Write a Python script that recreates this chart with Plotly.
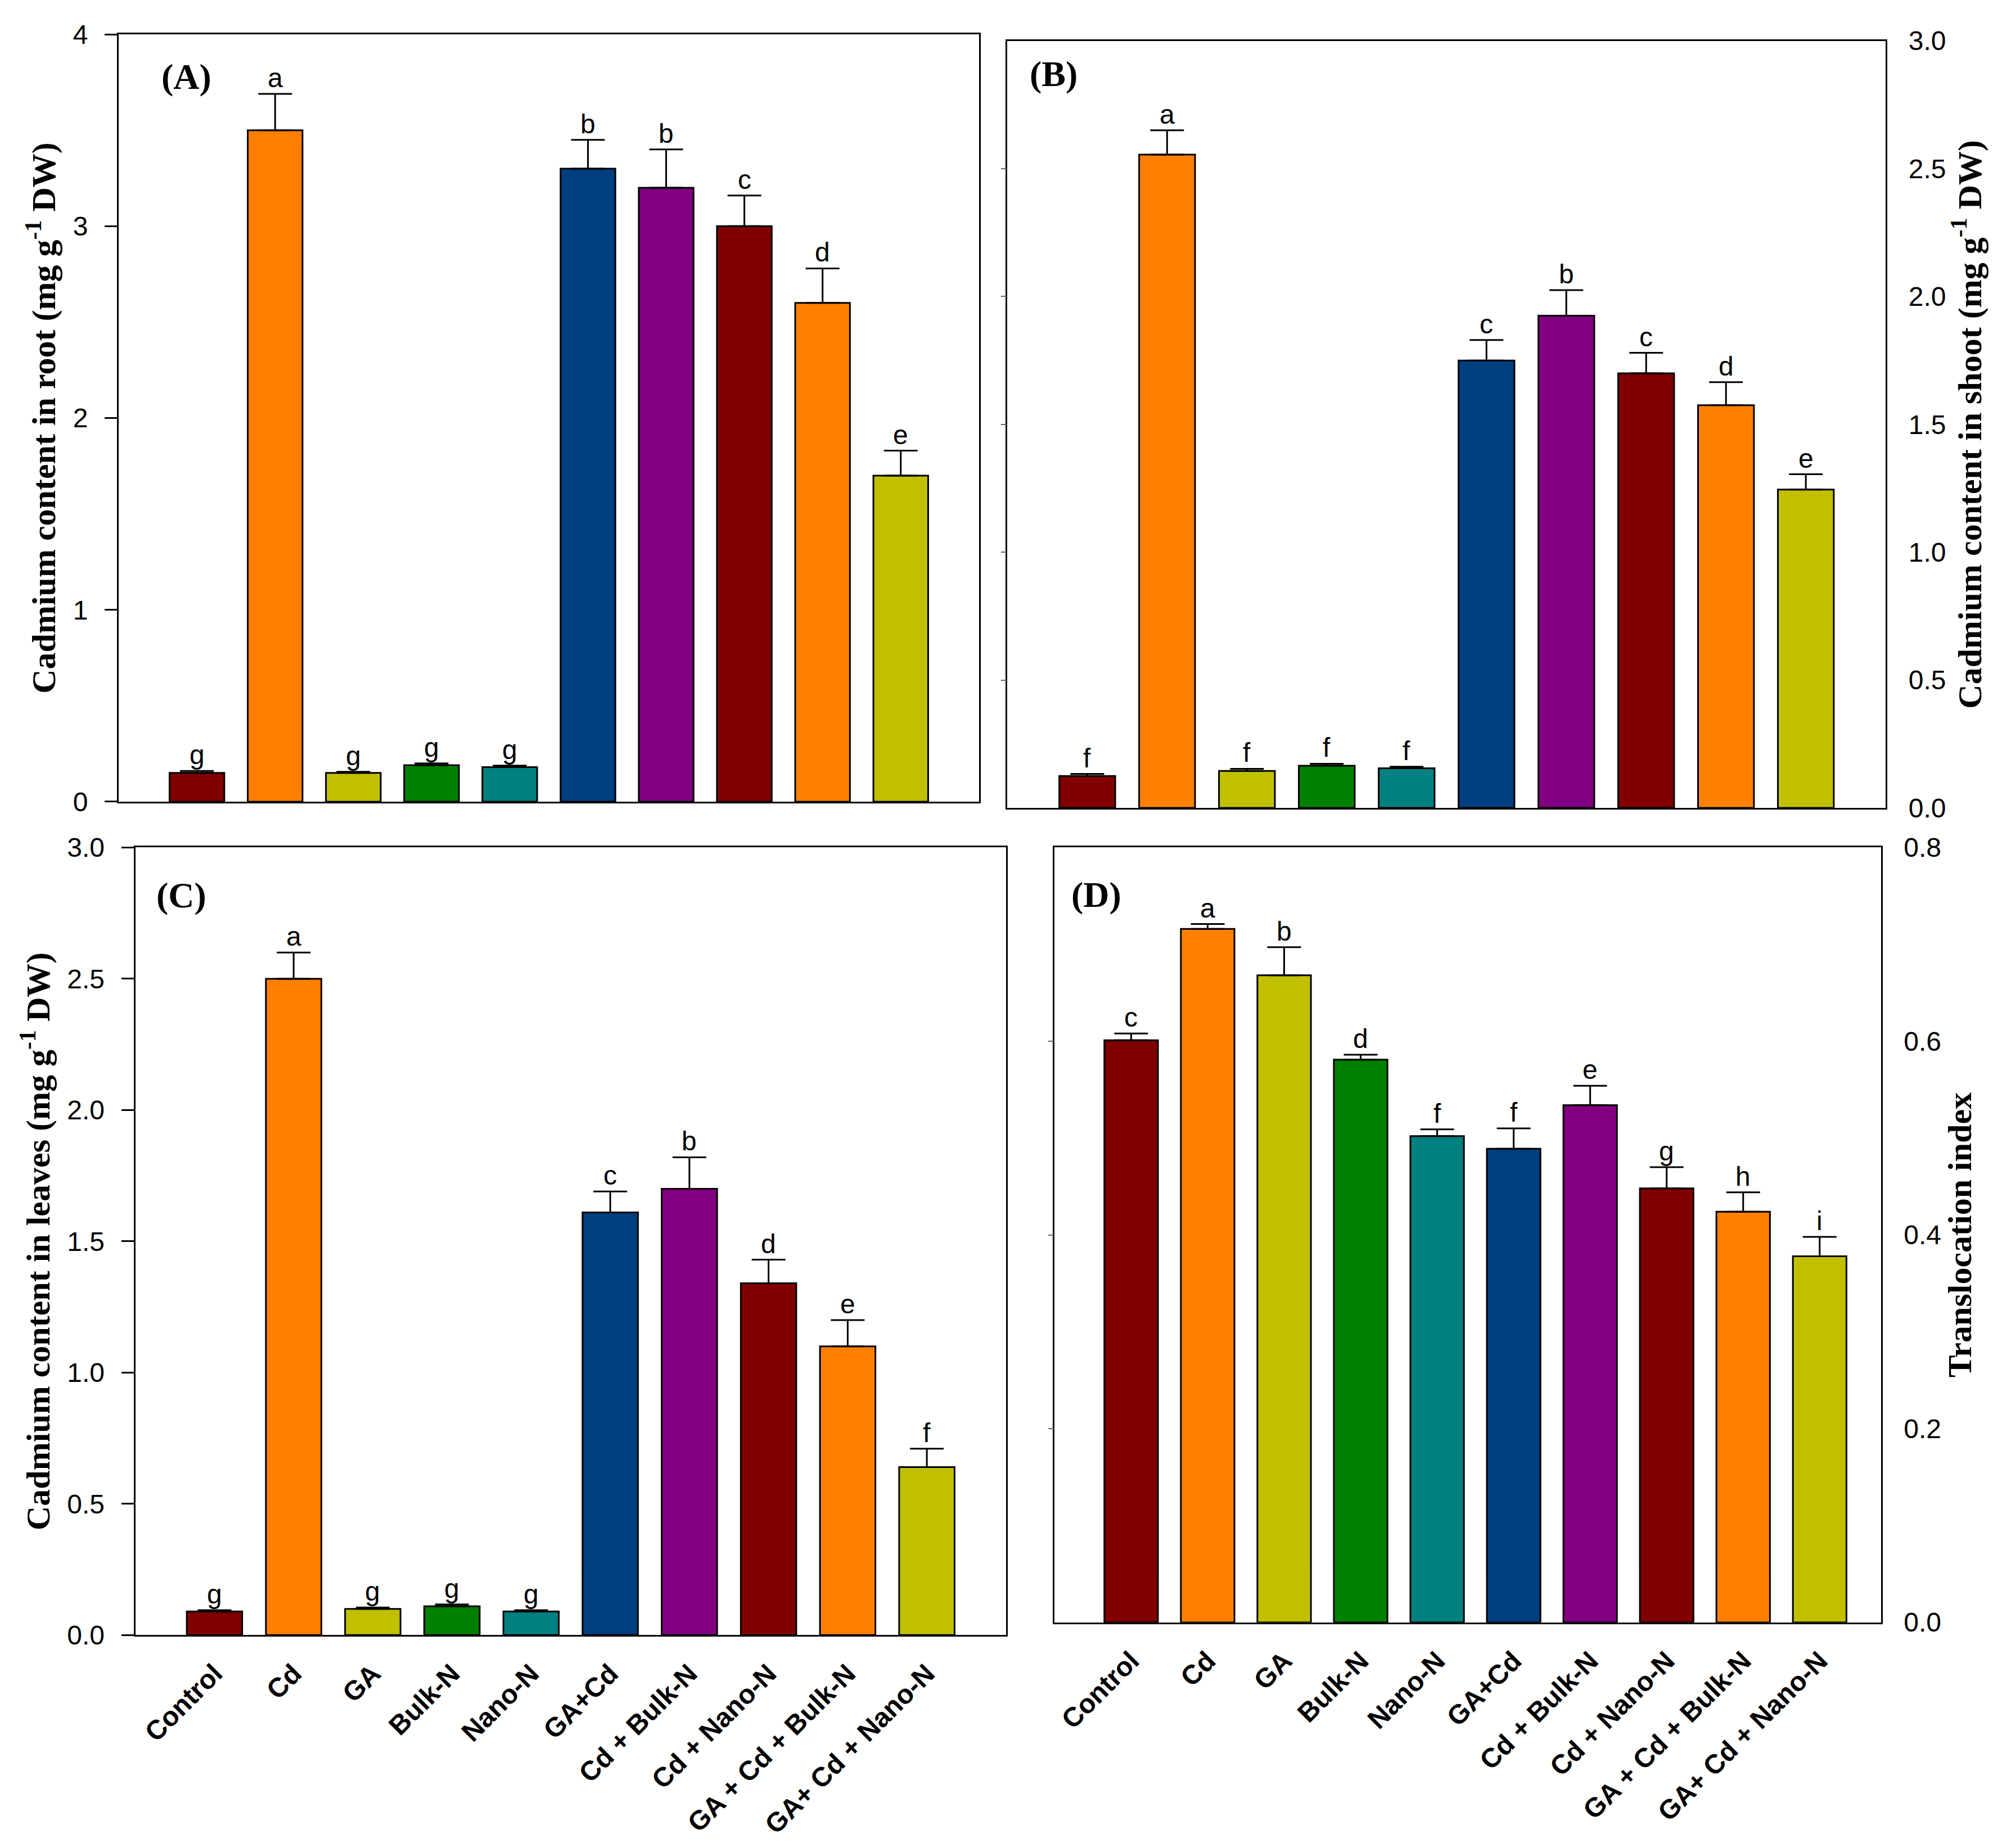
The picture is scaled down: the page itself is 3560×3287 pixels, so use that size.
import plotly.graph_objects as go

categories = ["Control", "Cd", "GA", "Bulk-N", "Nano-N", "GA+Cd", "Cd + Bulk-N",
              "Cd + Nano-N", "GA + Cd + Bulk-N", "GA+ Cd + Nano-N"]
bar_colors = ["#800000", "#FF8000", "#C0C000", "#008000", "#008080",
              "#003F7F", "#800080", "#800000", "#FF8000", "#C0C000"]

root = [0.15, 3.50, 0.15, 0.19, 0.18, 3.30, 3.20, 3.00, 2.60, 1.70]
root_err = [0.01, 0.19, 0.006, 0.01, 0.008, 0.15, 0.20, 0.16, 0.18, 0.13]
root_letters = ["g", "a", "g", "g", "g", "b", "b", "c", "d", "e"]

shoot = [0.125, 2.555, 0.145, 0.165, 0.155, 1.75, 1.925, 1.70, 1.575, 1.245]
shoot_err = [0.008, 0.095, 0.008, 0.008, 0.006, 0.08, 0.10, 0.08, 0.09, 0.06]
shoot_letters = ["f", "a", "f", "f", "f", "c", "b", "c", "d", "e"]

leaves = [0.09, 2.50, 0.10, 0.11, 0.09, 1.61, 1.70, 1.34, 1.10, 0.64]
leaves_err = [0.005, 0.10, 0.005, 0.007, 0.005, 0.08, 0.12, 0.09, 0.10, 0.07]
leaves_letters = ["g", "a", "g", "g", "g", "c", "b", "d", "e", "f"]

transloc = [0.601, 0.716, 0.668, 0.581, 0.502, 0.489, 0.534, 0.448, 0.424, 0.378]
transloc_err = [0.007, 0.005, 0.029, 0.005, 0.007, 0.021, 0.020, 0.022, 0.020, 0.020]
transloc_letters = ["c", "a", "b", "d", "f", "f", "e", "g", "h", "i"]

ARIAL = "Arial, Liberation Sans, sans-serif"
TIMES = "Times New Roman, Liberation Serif, serif"

fig = go.Figure()

panels = [
    ("x", "y", root, root_err, root_letters),
    ("x2", "y2", shoot, shoot_err, shoot_letters),
    ("x3", "y3", leaves, leaves_err, leaves_letters),
    ("x4", "y4", transloc, transloc_err, transloc_letters),
]

for xa, ya, vals, errs, letters in panels:
    fig.add_trace(go.Bar(
        x=categories, y=vals, xaxis=xa, yaxis=ya, width=0.7,
        marker=dict(color=bar_colors, line=dict(color="black", width=3)),
        error_y=dict(type="data", array=errs, arrayminus=[0] * len(errs),
                     symmetric=False, color="black", thickness=3, width=30),
        showlegend=False, hoverinfo="skip",
    ))
    for c, v, e, l in zip(categories, vals, errs, letters):
        fig.add_annotation(x=c, y=v + e, xref=xa, yref=ya, text=l,
                           showarrow=False, yanchor="bottom", yshift=0,
                           font=dict(family=ARIAL, size=48, color="black"))

# invisible helper traces so that the small left-side ticks of B and D are drawn
fig.add_trace(go.Scatter(x=[None], y=[None], xaxis="x2", yaxis="y5", showlegend=False))
fig.add_trace(go.Scatter(x=[None], y=[None], xaxis="x4", yaxis="y6", showlegend=False))

line_common = dict(showline=True, linecolor="black", linewidth=3, mirror=True,
                   showgrid=False, zeroline=False, automargin=False)

tickfont = dict(family=ARIAL, size=48, color="black")
titlefont = dict(family=TIMES, size=60, color="black", weight="bold")
xtickfont = dict(family=ARIAL, size=48, color="black", weight="bold")

fig.update_layout(
    width=3560, height=3287,
    margin=dict(l=0, r=0, t=0, b=0),
    paper_bgcolor="white", plot_bgcolor="white",
    showlegend=False,
    xaxis=dict(domain=[0.0593, 0.489], anchor="y", range=[-1, 10], ticks="",
               showticklabels=False, **line_common),
    yaxis=dict(domain=[0.5662, 0.9814], anchor="x", range=[0, 4], dtick=1,
               ticks="outside", ticklen=22, tickwidth=3, tickcolor="black",
               tickfont=tickfont, ticklabelstandoff=20,
               title=dict(text="Cadmium content in root (mg g<sup>-1</sup> DW)",
                          font=titlefont, standoff=12),
               **line_common),
    xaxis2=dict(domain=[0.5032, 0.9419], anchor="y2", range=[-1, 10], ticks="",
                showticklabels=False, **line_common),
    yaxis2=dict(domain=[0.5628, 0.9779], anchor="x2", range=[0, 3], dtick=0.5,
                tickformat=".1f", side="right", ticks="",
                tickfont=tickfont, ticklabelstandoff=28,
                title=dict(text="Cadmium content in shoot (mg g<sup>-1</sup> DW)",
                           font=titlefont, standoff=10),
                **line_common),
    yaxis5=dict(overlaying="y2", anchor="x2", side="left", range=[0, 3],
                tickvals=[0.5, 1.0, 1.5, 2.0, 2.5], ticks="outside", ticklen=10,
                tickwidth=2, tickcolor="#666666", showticklabels=False,
                showline=False, showgrid=False, zeroline=False),
    xaxis3=dict(domain=[0.0676, 0.5025], anchor="y3", range=[-1, 10], ticks="",
                tickangle=-45, tickfont=xtickfont, ticklabelstandoff=18,
                **line_common),
    yaxis3=dict(domain=[0.1152, 0.5414], anchor="x3", range=[0, 3], dtick=0.5,
                tickformat=".1f", ticks="outside", ticklen=22, tickwidth=3,
                tickcolor="black", tickfont=tickfont, ticklabelstandoff=20,
                title=dict(text="Cadmium content in leaves (mg g<sup>-1</sup> DW)",
                           font=titlefont, standoff=12),
                **line_common),
    xaxis4=dict(domain=[0.5268, 0.9395], anchor="y4", range=[-1, 9.8], ticks="",
                tickangle=-45, tickfont=xtickfont, ticklabelstandoff=18,
                **line_common),
    yaxis4=dict(domain=[0.1221, 0.5414], anchor="x4", range=[0, 0.8], dtick=0.2,
                tickformat=".1f", side="right", ticks="",
                tickfont=tickfont, ticklabelstandoff=28,
                title=dict(text="Translocation index", font=titlefont, standoff=10),
                **line_common),
    yaxis6=dict(overlaying="y4", anchor="x4", side="left", range=[0, 0.8],
                tickvals=[0.2, 0.4, 0.6], ticks="outside", ticklen=10,
                tickwidth=2, tickcolor="#666666", showticklabels=False,
                showline=False, showgrid=False, zeroline=False),
)

panel_labels = [("(A)", "x domain", "y domain", 0.048, 0.972),
                ("(B)", "x2 domain", "y2 domain", 0.024, 0.984),
                ("(C)", "x3 domain", "y3 domain", 0.023, 0.966),
                ("(D)", "x4 domain", "y4 domain", 0.019, 0.966)]
for t, xr, yr, px, py in panel_labels:
    fig.add_annotation(text=t, xref=xr, yref=yr, x=px, y=py, xanchor="left",
                       yanchor="top", showarrow=False,
                       font=dict(family=TIMES, size=64, color="black", weight="bold"))

fig.write_html("out.html")
